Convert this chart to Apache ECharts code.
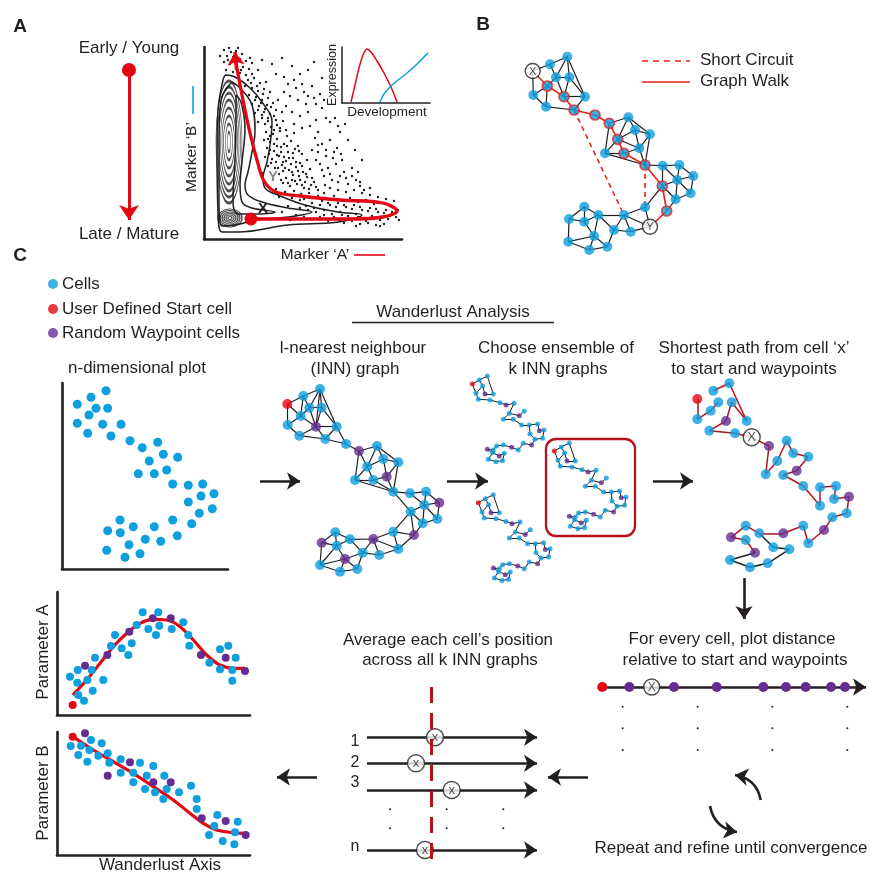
<!DOCTYPE html>
<html><head><meta charset="utf-8">
<script src="https://cdn.jsdelivr.net/npm/echarts@6/dist/echarts.min.js"></script>
<style>html,body{margin:0;padding:0;background:#fff}#c{width:872px;height:874px}</style>
</head><body><div id="c"></div>
<script>
// ---------------- DATA (page-pixel units) ----------------
// Panel A: density dots, contour ellipses, contour outlines, trajectory
const aDots = [[224,50],[229,48],[236,51],[242,54],[227,56],[233,57],[240,59],[246,61],[224,62],[230,64],[237,65],[243,67],[249,69],[226,70],[233,72],[240,73],[246,75],[252,74],[238,48],[231,52],
[248,80],[254,78],[260,83],[245,86],[252,88],[258,91],[264,89],[249,95],[256,97],[262,100],[268,98],[252,104],[259,106],[265,109],[271,107],[255,113],[262,115],[268,118],[274,116],[258,122],[265,124],[271,127],[277,125],[283,121],[276,110],[282,112],[270,92],[278,100],[286,106],[266,82],
[266,132],[273,134],[280,131],[287,136],[294,133],[264,140],[270,142],[277,139],[284,144],[291,141],[298,146],[267,148],[274,151],[281,147],[288,152],[295,149],[302,154],[265,157],[272,159],[279,156],[286,161],[293,158],[300,163],[307,160],[268,166],[275,168],[282,165],[289,170],[296,167],[303,172],[310,169],[262,173],[279,174],[286,178],[293,175],[300,180],[307,177],[314,182],[283,183],[290,186],[297,184],[304,188],[311,185],[318,190],[276,189],[285,192],[294,191],[301,194],[309,193],[270,136],[277,146],[284,157],[291,164],[298,171],[305,182],[269,154],[276,162],[283,171],[292,180],
[288,84],[296,88],[304,92],[290,96],[298,100],[306,104],[314,98],[292,112],[300,116],[308,112],[316,120],[294,124],[302,128],[310,126],[318,132],[322,108],[312,86],[284,92],[320,94],[326,118],
[315,138],[322,144],[330,140],[337,148],[318,152],[326,156],[334,152],[342,160],[320,164],[328,168],[336,164],[344,172],[352,168],[324,176],[332,180],[340,176],[348,184],[356,180],[330,188],[338,190],[346,192],[354,190],[360,186],[340,132],[348,140],[355,150],[362,160],[345,124],[335,118],[358,172],
[318,196],[326,198],[334,196],[342,200],[350,198],[358,202],[366,200],[374,204],[382,203],[390,206],[312,203],[320,205],[328,203],[336,207],[344,205],[352,209],[360,207],[368,211],[376,209],[384,213],[392,212],[300,208],[308,210],[316,212],[324,210],[332,214],[340,212],[348,216],[356,214],[364,218],[372,216],[380,220],[388,219],[396,217],[296,215],[304,217],[312,219],[320,217],[328,221],[336,219],[344,223],[352,221],[360,224],[368,223],[376,225],[384,224],[288,206],[292,198],[300,200],[306,196],[282,212],[290,220],[362,193],[370,195],[378,197],[386,199],[394,201],[398,210],
[262,60],[272,64],[282,58],[292,66],[300,74],[314,62],[322,78],[308,70],
[251,83],[257,86],[263,94],[255,100],[261,103],[267,105],[273,103],[258,110],[264,112],[270,114],[276,120],[262,118],[268,121],[274,130],[280,128],[286,130],[268,139],[274,144],[281,152],[287,146],[293,153],[299,151],[270,150],[277,155],[283,162],[289,158],[296,162],[302,166],[271,163],[278,168],[285,168],[292,172],[299,176],[306,174],[312,178],[281,180],[288,183],[295,181],[302,185],[309,189],[316,187],[324,193],[279,197],[287,194],[296,196],[304,199],[312,198],
[322,201],[330,205],[338,203],[346,207],[354,205],[362,210],[370,208],[378,212],[386,210],[394,214],[306,206],[314,208],[324,215],[334,217],[342,215],[350,219],[358,217],[366,221],[374,219],[382,217],[390,216],[399,220],[340,221],[356,226],[380,226],
[318,145],[326,150],[333,158],[341,154],[322,170],[330,174],[338,182],[346,178],[352,176],[360,182],[364,190],[370,188],[312,150],[316,160],[325,185],
[228,60],[235,62],[241,70],[252,63],[258,70],[276,74],[284,77],[294,80],[302,84],[308,96],[316,104],[324,100],[330,122],[338,126],[250,58],[220,56],[232,46]];
const aCoreCentre = [229,142];
const aCoreRings = [[3,20],[7,36],[11,52],[14,68],[17,84],[20,98],[23,110],[26,122]];
const aLowCentre = [230,218];
const aLowRings = [[4,3],[8,6],[12,9],[16,12],[20,15],[24,18]];
const aContourOuter = [[225,75],[235,77],[250,88],[262,102],[272,122],[270,145],[267,162],[263,178],[265,188],[278,195],[305,205],[338,212],[362,215],[338,222],[288,225],[238,232],[222,232],[218,212],[217,150],[218,110],[223,80],[225,75]];
const aContourMid = [[232,82],[240,88],[252,105],[255,132],[252,152],[248,172],[245,185],[248,195],[262,202],[288,208],[312,212],[288,217],[255,220],[240,224],[222,226],[219,200],[219,140],[221,100],[232,82]];
const aContourInner = [[236,95],[241,102],[245,128],[242,162],[240,185],[242,202],[252,208],[275,212],[255,214],[238,214],[233,200],[235,160],[236,120],[236,95]];
const aPath = [[251,219],[300,219],[350,219],[383,217],[397,211],[383,203],[340,200],[300,196],[276,192],[264,181],[257,160],[250,133],[243,100],[238,74],[236,62]];
const aPathArrow = [[[236.5,70],[235,52]]];
const insetRed = [[351,102],[355,85],[359,68],[363,55],[367,49],[371,52],[377,61],[384,73],[391,87],[397,102]];
const insetBlue = [[380,102],[384,94],[390,87],[398,80],[407,73],[415,66],[422,59],[428,53]];
const ageArrow = [[[129,72],[129,220]]];
const ageDot = [[129,70]];

// Panel B network: [x, y, type] type 0 cell, 3 X, 5 Y, 4 on graph walk
const bNodes = [[532.7,71,3],[550,64.3,0],[567.3,56.7,0],[556,77.3,0],[569.3,77.3,0],[547.3,86,4],[533.3,95,0],[564,96.7,4],[585,96.7,0],[546,106.7,0],[574,110,4],[595,115,4],[609.3,123.3,4],
[628.3,117.3,0],[635,130,0],[650,134.3,0],[617.7,139.3,4],[639.3,148.3,0],[624,153.3,4],[605,153.3,0],[645,165,4],
[662.7,165.7,0],[679.3,165,0],[693.3,176,0],[677.3,180,0],[662.3,186,4],[690.7,193.3,0],[675.7,199.3,0],[666.7,211,4],[650,226.7,5],
[645,207.3,0],[624,215,0],[614,230,0],[630.7,231.7,0],[598.3,215,0],[584.3,206.7,0],[584.3,221.7,0],[569,219,0],[594,236,0],[568.3,241.7,0],[589.3,250,0],[607.3,246.7,0]];
const bEdgesBlack = [[0,1],[1,2],[1,3],[2,3],[2,4],[2,8],[3,4],[3,5],[3,7],[4,7],[4,8],[0,6],[6,5],[6,9],[5,9],[9,10],[7,8],[8,10],
[12,13],[13,14],[13,15],[14,15],[14,17],[14,16],[15,17],[15,20],[16,19],[19,12],[19,18],[17,18],[17,20],[19,20],[16,17],[13,16],
[21,22],[21,24],[21,25],[22,23],[22,24],[23,24],[23,26],[24,26],[24,27],[26,27],[25,24],[25,27],[27,28],[20,21],[25,30],
[30,31],[30,29],[31,29],[31,32],[31,33],[32,33],[33,29],[31,34],[34,35],[34,36],[34,32],[35,37],[35,36],[36,37],[36,38],[37,39],[38,39],[38,40],[38,41],[39,40],[40,41],[41,32],[34,38]];
const bEdgesWalk = [[0,5],[5,7],[7,10],[10,11],[11,12],[12,16],[16,18],[18,20],[20,25],[25,28],[28,29]];
const bEdgesShort = [[10,31],[20,30]];
const bLegendLines = {dashed:[[[642,61],[690,61]]], solid:[[[642,82],[690,82]]]};

// Panel C legend
const cLegendDots = [[53,284,0],[53,309,1],[53,333,2]];

// n-dimensional plot
const ndimCells = [[106,390.7],[91,397.3],[77.3,404.3],[96,408.3],[107.7,408.3],[89,415],[77.3,423.3],[102.7,424.3],[121,424.3],[87.7,433.3],[111,436],[130,440.7],[142.3,447.7],[157.7,442.3],[163.3,454.3],[177.7,457.3],[149.3,461],[166.7,470],[154.3,473.7],[138.3,473.7],[172.7,484],[188.3,485.3],[202.7,484],[201,496],[214,493.7],[188.3,502],[199.3,513.3],[212.3,508.7],[191.7,523.7],[172.7,520],[177.3,535.7],[154.3,526.7],[160.7,541.3],[145.3,539.3],[133.3,526.7],[120,520],[107.7,530.7],[120.3,532.7],[129,544.7],[106.7,550.3],[125,557.3],[140,553.7]];

// INN graph: type 0 cell, 1 start, 2 waypoint
const innNodes = [[287.3,404,1],[303.3,396,0],[320,389,0],[309.3,407.7,0],[321.7,407.7,0],[300.7,416,0],[287.7,425,0],[316,426.7,2],[336.7,426.7,0],[299.3,435.7,0],[325.3,439,0],[346,444,0],[359,451,2],[377,446,0],[383.3,459,0],[398.3,462.3,0],[367.3,466.7,0],[386.7,476.7,2],[355,480,0],[373.3,480,0],[393.3,491.7,0],[410,493.3,0],[426,491.7,0],[439.3,502.7,2],[424.3,505,0],[410.7,511.7,0],[437.3,519,0],[422.7,523.3,0],[414,535,2],[393.3,531.7,0],[373.3,539,2],[398.3,549,0],[379.3,555,0],[362.7,552.7,0],[350,539.3,0],[335.3,532.3,0],[321.7,542.7,2],[336.7,545.7,0],[345,559,2],[320,565,0],[340,571.7,0],[357.3,569,0]];
const innEdges = [[0,1],[1,2],[0,6],[0,5],[1,3],[1,5],[2,3],[2,4],[2,8],[2,7],[3,4],[3,5],[3,7],[4,7],[4,8],[5,6],[5,7],[6,9],[7,9],[7,10],[7,8],[9,10],[8,10],[8,11],[10,11],[11,12],[12,13],[12,16],[12,18],[13,14],[13,15],[13,16],[14,15],[14,16],[14,17],[15,17],[15,20],[16,18],[16,19],[17,19],[17,20],[18,19],[18,20],[19,20],[20,21],[20,25],[21,22],[21,24],[22,23],[22,24],[23,24],[23,26],[24,25],[24,26],[24,27],[25,27],[25,28],[26,27],[27,28],[25,29],[28,29],[29,30],[29,31],[28,31],[30,31],[30,32],[30,33],[30,34],[31,32],[32,33],[33,34],[33,38],[33,41],[34,35],[34,37],[35,36],[35,37],[36,37],[36,39],[37,38],[37,39],[38,39],[38,40],[38,41],[39,40],[40,41]];

// k INN graphs: one shape relative to its start cell, placed at three starts
const kShape = [[0,0,1],[7,-4,0],[15,-8,0],[10.3,2,0],[3.7,9.3,0],[12.7,10,2],[21,10,0],[6,15.3,0],[17.7,16,0],[27.7,18.7,0],[33.7,21,2],[41.7,19.3,0],[37,29.3,0],[31,35.3,0],[47,31.7,2],[52,27,0],[41,35.3,0],[49.3,41,0],[57,41,0],[65.3,40,0],[67,46.7,2],[71.7,46,0],[57.7,50,0],[62.7,55.3,0],[70.3,54.3,0],[51,59.3,0],[59.3,61,2],[46,66,0],[39.3,63.3,2],[31,61,0],[24.3,62,0],[21,66,0],[15,65.3,2],[20.3,68.7,0],[27,72,2],[32,69.3,0],[16,75.3,0],[23.7,77.7,0],[30.3,76.7,0]];
const kEdges = [[0,1],[1,2],[2,6],[1,3],[3,4],[4,7],[0,4],[3,5],[5,6],[7,8],[8,9],[9,10],[10,11],[11,12],[12,13],[12,14],[14,15],[13,16],[16,17],[17,18],[18,19],[19,20],[20,21],[21,24],[22,23],[23,24],[22,18],[23,26],[25,26],[25,27],[27,28],[28,29],[29,30],[30,31],[31,32],[32,33],[33,34],[34,35],[33,36],[36,37],[37,38],[35,38]];
const kStarts = [[472.3,384],[478.3,502.7],[554.3,451]];

// Shortest path graph
const spNodes = [[697.3,399,1],[713.3,390.7,0],[729.3,383.3,0],[718.3,402.3,0],[731.7,402.3,0],[710.7,410.7,0],[697.3,419.3,0],[726,421,2],[746.7,421,0],[709.3,430.7,0],[735,433.3,0],[751.7,437.3,3],[769,446,2],[786.7,440.7,0],[793.3,453.3,0],[808.3,456.7,0],[777.3,461,0],[796.7,470.7,2],[765.7,474.3,0],[783.3,475,0],[803.3,486,0],[820,487.3,0],[836,486,0],[849,496.7,2],[834,499,0],[820,505.7,0],[846.7,513.3,0],[832.3,517.3,0],[824,530,2],[803.3,525.7,0],[783.3,533.3,2],[808.3,543.3,0],[789.3,549.3,0],[773.3,547.3,0],[759.3,533.3,0],[731,537.3,2],[745.7,525.7,0],[745.7,540,0],[755,552.7,2],[730,560,0],[750,567.3,0],[767.7,563.3,0]];
const spEdgesPath = [[0,6],[6,5],[5,3],[1,2],[2,8],[4,8],[4,7],[7,9],[9,10],[10,11],[11,12],[12,18],[18,16],[16,13],[13,14],[14,15],[15,17],[17,19],[19,20],[20,25],[21,25],[21,22],[22,24],[24,23],[23,26],[26,27],[27,28],[28,31],[31,29],[29,30],[30,34],[34,36],[36,35],[35,37],[37,38]];
const spEdgesOther = [[34,33],[33,32],[32,41],[38,39],[39,40],[40,41]];

// Distance line
const distLine = [[[598,687],[866,687]]];
const distStart = [[602.3,687]];
const distWaypoints = [[629.3,687],[674,687],[716.7,687],[763.3,687],[786,687],[805.7,687],[831,687],[845,687]];
const distX = [[651.7,687]];
const distDots = [[622.7,706.7],[697.7,706.7],[772.3,706.7],[847.3,706.7],[622.7,728.3],[697.7,728.3],[772.3,728.3],[847.3,728.3],[622.7,750],[697.7,750],[772.3,750],[847.3,750]];

// Averaging rows
const rowLabels = ['1','2','3','n'];
const rowY = [737.3,763.3,790,850];
const rowX = [435,416,451.7,425];
const rowDots = [[390,809.3],[446.7,809.3],[503.3,809.3],[390,828.3],[446.7,828.3],[503.3,828.3]];
const meanLine = [[[431,687],[431,860]]];

// Flow arrows
const flowArrows = [[[260,481],[300,481]],[[447,481],[488,481]],[[653,481],[693,481]],[[744,578],[744,619]],[[588,777],[548,777]],[[317,777],[277,777]]];
const cycleArrows = [[[760.7,800],[735,775]],[[710,806],[737,832]]];
const titleRule = [[[352,322],[554,322]]];

// Parameter A / B versus Wanderlust axis
const paCells = [[70,676.7],[77.7,670],[77.3,682.7],[78.3,695],[84,700.7],[87.3,680],[92.7,690.7],[95,657.7],[91.7,670],[103.3,680],[111,646],[115,635],[121.7,648.3],[128.3,655],[131.7,643.3],[136.7,625],[142.7,612.3],[148.3,629],[156,635],[158.3,612.3],[159.3,625.7],[171.7,629],[183.3,622.3],[188.3,635],[189.3,645.7],[209.3,662.7],[220,649.3],[228.3,645.7],[220,669.3],[232.3,670],[232.3,680.7],[235.7,657.7]];
const paWaypoints = [[85,665.7],[107.3,655],[129.3,631.7],[152.7,618.3],[170.7,618.3],[201,655],[225.7,657.7],[245,671]];
const paStart = [[72.7,705]];
const paFit = [[72.7,695],[86.7,680],[100,663.3],[113.3,646.7],[126.7,633.3],[140,623.3],[153.3,619.3],[166.7,620],[180,626.7],[193.3,640],[206.7,655],[220,665],[233.3,668.3],[245,668.3]];
const pbCells = [[70.7,746],[78.3,755],[81,745.7],[87.3,761.7],[89.3,750],[91,740],[98.3,755.7],[101.7,743.3],[107.7,753.3],[109.3,762.7],[120.7,759.3],[120.7,772.7],[133.3,772.7],[133.3,782.3],[140,762.7],[145,789],[146.7,775.7],[153.3,766],[155,792.3],[163.3,799],[164.3,775.7],[166.7,789],[179,792.3],[191,785.7],[196.7,799],[196.7,809],[209,835],[214.3,826],[217.3,815],[222.7,841],[234.3,844.3],[235,832.3],[237.7,821.7]];
const pbWaypoints = [[85,733.3],[107.7,775.7],[130,762.3],[153.3,782.3],[170.7,782.3],[201.7,818.3],[225.7,821],[245.7,835]];
const pbStart = [[72.7,736.7]];
const pbFit = [[72.7,736.7],[93.3,750],[113.3,761.7],[133.3,773.3],[153.3,786.7],[173.3,800],[190,813.3],[203.3,823.3],[216.7,830],[233.3,832.7],[245,833.3]];

// ---------------- STYLE ----------------
const BLUE='#0e9fdf', RED='#e30613', PURPLE='#662d91', INK='#231f20', WALK='#e2231a', BOX='#b5121b';
const FONT='"Liberation Sans", Arial, Helvetica, sans-serif';
const NODE_COL=[BLUE,RED,PURPLE,'#fff',BLUE,'#fff'];

const gridRects=[[0,0,872,874],[204,47,198,192],[342,47,88,56],[62,383,166,186],[57,592,193,123],[57,732,193,123]];
const axisW=[0,2.6,1.5,2.6,2.6,2.6];
const grid=gridRects.map(r=>({left:r[0],top:r[1],width:r[2],height:r[3],containLabel:false}));
const xAxis=gridRects.map((r,i)=>({gridIndex:i,type:'value',min:r[0],max:r[0]+r[2],show:i>0,position:'bottom',
  axisLine:{show:i>0,onZero:false,lineStyle:{color:INK,width:axisW[i]}},axisTick:{show:false},axisLabel:{show:false},splitLine:{show:false}}));
const yAxis=gridRects.map((r,i)=>({gridIndex:i,type:'value',min:r[1],max:r[1]+r[3],inverse:true,show:i>0,position:'left',
  axisLine:{show:i>0,onZero:false,lineStyle:{color:INK,width:axisW[i]}},axisTick:{show:false},axisLabel:{show:false},splitLine:{show:false}}));

const series=[];
function scat(gi,pts,color,size,z,extra){series.push(Object.assign({type:'scatter',xAxisIndex:gi,yAxisIndex:gi,symbol:'circle',data:pts.map(p=>[p[0],p[1]]),symbolSize:size,itemStyle:{color:color,opacity:1},z:z||4,silent:true},extra||{}));}
function segs(gi,list,color,width,z,extra){series.push(Object.assign({type:'lines',coordinateSystem:'cartesian2d',xAxisIndex:gi,yAxisIndex:gi,data:list.map(c=>({coords:c})),lineStyle:{color:color,width:width,opacity:1},symbol:['none','none'],z:z||2,silent:true},extra||{}));}
function pathLine(gi,pts,color,width,z,smooth,type){series.push({type:'line',xAxisIndex:gi,yAxisIndex:gi,data:pts,showSymbol:false,symbol:'none',smooth:smooth,lineStyle:{color:color,width:width,type:type||'solid'},z:z||3,silent:true});}
function edgeCoords(nodes,edges){return edges.map(e=>[[nodes[e[0]][0],nodes[e[0]][1]],[nodes[e[1]][0],nodes[e[1]][1]]]);}
function nodes(gi,list,size,circleSize,labelChar,z){
  series.push({type:'scatter',xAxisIndex:gi,yAxisIndex:gi,symbol:'circle',z:z||5,silent:true,
    data:list.map(n=>{const t=n[2]||0;
      if(t===3||t===5){return {value:[n[0],n[1]],symbolSize:circleSize,itemStyle:{color:'#fff',borderColor:INK,borderWidth:1.4},
        label:{show:true,position:'inside',formatter:t===3?labelChar:'Y',color:INK,fontSize:Math.round(circleSize*0.74),fontFamily:FONT,offset:[0,0.5]}};}
      return {value:[n[0],n[1]],symbolSize:size,itemStyle:{color:NODE_COL[t],borderColor:t===4?WALK:'rgba(0,0,0,0)',borderWidth:t===4?1.7:0}};})});
}

// Panel A
scat(1,aDots,INK,2.4,2);
series.push({type:'scatter',xAxisIndex:1,yAxisIndex:1,symbol:'circle',silent:true,z:3,
  data:aCoreRings.map(r=>({value:aCoreCentre,symbolSize:r,itemStyle:{color:'rgba(0,0,0,0)',borderColor:INK,borderWidth:1.4}})).concat(
       aLowRings.map(r=>({value:aLowCentre,symbolSize:r,itemStyle:{color:'rgba(0,0,0,0)',borderColor:INK,borderWidth:1.2}})))});
pathLine(1,aContourOuter,INK,1.5,3,0.4);
pathLine(1,aContourMid,INK,1.5,3,0.4);
pathLine(1,aContourInner,INK,1.5,3,0.4);
pathLine(1,aPath,RED,3.3,6,0.35);
segs(0,aPathArrow,RED,3.3,7,{symbol:['none','arrow'],symbolSize:13});
scat(1,[aPath[0]],RED,13,7);
pathLine(2,insetRed,RED,1.5,4,0.3);
pathLine(2,insetBlue,BLUE,1.5,4,0.3);
segs(0,ageArrow,RED,3,4,{symbol:['none','arrow'],symbolSize:15});
scat(0,ageDot,RED,14,5);
segs(0,[[[193,86],[193,114]]],BLUE,1.6,3);
segs(0,[[[354,255],[385,255]]],RED,1.6,3);

// Panel B
segs(0,edgeCoords(bNodes,bEdgesBlack),INK,1.2,2);
segs(0,edgeCoords(bNodes,bEdgesWalk),WALK,1.6,3);
segs(0,edgeCoords(bNodes,bEdgesShort),WALK,1.6,3,{lineStyle:{color:WALK,width:1.6,type:[5,4],opacity:1}});
nodes(0,bNodes,10,15,'X');
segs(0,bLegendLines.dashed,WALK,1.6,3,{lineStyle:{color:WALK,width:1.6,type:[6,5],opacity:1}});
segs(0,bLegendLines.solid,WALK,1.6,3);

// Panel C legend + n-dim plot
nodes(0,cLegendDots,10,10,'X');
scat(3,ndimCells,BLUE,9,4);

// INN graph
segs(0,edgeCoords(innNodes,innEdges),INK,1.2,2);
nodes(0,innNodes,10,10,'X');

// k INN graphs
kStarts.forEach(s=>{
  const pl=kShape.map(p=>[s[0]+p[0],s[1]+p[1],p[2]]);
  segs(0,edgeCoords(pl,kEdges),INK,1,2);
  nodes(0,pl,5,5,'X');
});

// shortest path graph
segs(0,edgeCoords(spNodes,spEdgesPath),BOX,1.5,2);
segs(0,edgeCoords(spNodes,spEdgesOther),INK,1.5,2);
nodes(0,spNodes,10,17,'X');

// distance line
segs(0,distLine,INK,2.6,2,{symbol:['none','arrow'],symbolSize:13});
scat(0,distStart,RED,10,5);
scat(0,distWaypoints,PURPLE,10,5);
nodes(0,distX.map(p=>[p[0],p[1],3]),10,16,'X');
scat(0,distDots,INK,2,4);

// averaging rows
segs(0,rowY.map(y=>[[367,y],[537,y]]),INK,2.6,2,{symbol:['none','arrow'],symbolSize:13});
nodes(0,rowX.map((x,i)=>[x,rowY[i],3]),10,17,'x',5);
segs(0,meanLine,BOX,3,8,{lineStyle:{color:BOX,width:3,type:[16,10],opacity:1}});
scat(0,rowDots,INK,2,4);

// arrows & rules
segs(0,flowArrows,INK,2.6,2,{symbol:['none','arrow'],symbolSize:13});
segs(0,[cycleArrows[0]],INK,2.6,2,{symbol:['none','arrow'],symbolSize:13,lineStyle:{color:INK,width:2.6,curveness:-0.35,opacity:1}});
segs(0,[cycleArrows[1]],INK,2.6,2,{symbol:['none','arrow'],symbolSize:13,lineStyle:{color:INK,width:2.6,curveness:-0.35,opacity:1}});
segs(0,titleRule,INK,1.4,2);

// Parameter plots
pathLine(4,paFit,RED,3.2,3,0.4);
scat(4,paCells,BLUE,8,4);
scat(4,paWaypoints,PURPLE,8,4);
scat(4,paStart,RED,8,4);
pathLine(5,pbFit,RED,3.2,3,0.4);
scat(5,pbCells,BLUE,8,4);
scat(5,pbWaypoints,PURPLE,8,4);
scat(5,pbStart,RED,8,4);

// ---------------- TEXT ----------------
function T(text,x,y,o){o=o||{};const al=o.align||'center';
  return {type:'text',x:x,y:y,rotation:o.rot||0,z:100,silent:true,
    style:{text:text,x:0,y:0,fill:o.fill||INK,font:(o.weight||'normal')+' '+(o.size||17)+'px '+FONT,
      align:al,textAlign:al,verticalAlign:'middle',textVerticalAlign:'middle',
      stroke:o.stroke||null,lineWidth:o.strokeW||0}};}
const texts=[
  T('A',20,27,{weight:'bold',size:19}),T('B',483,25,{weight:'bold',size:19}),T('C',20,256,{weight:'bold',size:19}),
  T('Early / Young',129,48),T('Late / Mature',129,234),
  T('Expression',333,75,{rot:Math.PI/2,size:12.5}),T('Development',387,112,{size:13.5}),
  T('Marker \u2018B\u2019',192,157,{rot:Math.PI/2,size:15.5}),T('Marker \u2018A\u2019',315,255,{size:15.5}),
  T('X',263,209,{weight:'bold',size:15}),T('Y',273,177,{weight:'bold',size:15,fill:'#8a8a8a',stroke:'#fff',strokeW:3}),
  T('Short Circuit',700,60,{align:'left'}),T('Graph Walk',700,81,{align:'left'}),
  T('Cells',62,284,{align:'left'}),T('User Defined Start cell',62,309,{align:'left'}),T('Random Waypoint cells',62,333,{align:'left'}),
  T('Wanderlust Analysis',453,312),T('n-dimensional plot',137,368),
  T('l-nearest neighbour',353,348),T('(INN) graph',355,369),
  T('Choose ensemble of',556,348),T('k INN graphs',558,369),
  T('Shortest path from cell \u2018x\u2019',754,348),T('to start and waypoints',754,369),
  T('For every cell, plot distance',732,639),T('relative to start and waypoints',735,660),
  T('Average each cell\u2019s position',448,640),T('across all k INN graphs',450,660),
  T('Repeat and refine until convergence',731,848),
  T('Parameter A',43,652,{rot:Math.PI/2}),T('Parameter B',43,793,{rot:Math.PI/2}),T('Wanderlust Axis',160,865),
  T(rowLabels[0],355,742,{size:16}),T(rowLabels[1],355,763,{size:16}),T(rowLabels[2],355,783,{size:16}),T(rowLabels[3],355,847,{size:16}),
  {type:'rect',z:90,silent:true,shape:{x:546,y:439,width:89,height:97,r:10},style:{fill:'none',stroke:BOX,lineWidth:2.3}}
];

const chart=echarts.init(document.getElementById('c'),null,{renderer:'canvas'});
chart.setOption({animation:false,backgroundColor:'#fff',grid:grid,xAxis:xAxis,yAxis:yAxis,series:series,graphic:{elements:texts}});
</script></body></html>
